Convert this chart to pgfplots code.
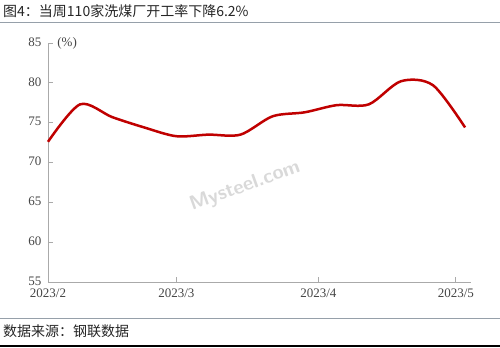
\documentclass[border=0pt]{standalone}
\usepackage{pgfplots}
\pgfplotsset{compat=1.18}
\usepackage{fontspec}
\setmainfont{Liberation Serif}
\newfontfamily\cjk{Noto Sans CJK SC}
\definecolor{axisgray}{RGB}{170,170,170}
\definecolor{labgray}{RGB}{70,70,70}
\definecolor{linered}{RGB}{192,0,0}
\definecolor{rulegray}{RGB}{150,160,170}
\begin{document}
\begin{tikzpicture}[x=1bp,y=1bp]
\useasboundingbox (0,0) rectangle (500,-347);
\fill[white] (0,0) rectangle (500,-347);
\node[anchor=west,inner sep=0pt,font=\cjk\fontsize{14bp}{16bp}\selectfont,text=black!85] at (3,-11) {图4：当周110家洗煤厂开工率下降6.2\%};
\draw[rulegray,line width=0.8bp] (0,-22) -- (500,-22);
\draw[rulegray,line width=0.8bp] (0,-318) -- (500,-318);
\node[anchor=west,inner sep=0pt,font=\cjk\fontsize{14bp}{16bp}\selectfont,text=black!85] at (3,-331) {数据来源：钢联数据};
\draw[black,line width=1.5bp] (0,-346) -- (500,-346);
\begin{axis}[
  at={(48bp,-282bp)}, anchor=south west,
  scale only axis, width=423bp, height=239bp,
  xmin=0, xmax=92.3, ymin=55, ymax=85,
  axis lines=left, axis line style={axisgray,line width=0.8bp,-},
  xtick={0,28,59,89}, xticklabels={2023/2,2023/3,2023/4,2023/5},
  ytick={55,60,...,85},
  tick style={axisgray,line width=0.8bp},
  tick align=inside, major tick length=5bp,
  ticklabel style={font=\fontsize{13bp}{15bp}\selectfont,text=labgray},
  /pgf/number format/assume math mode=true,
  yticklabel style={xshift=-3bp,yshift=1bp},
  xticklabel style={yshift=-3bp},
  clip=false,
]
\node[anchor=west,font=\fontsize{13bp}{15bp}\selectfont,text=labgray,inner sep=0pt] at (axis cs:2,85) {(\%)};
\node[rotate=20,font=\sffamily\bfseries\fontsize{20bp}{22bp}\selectfont,text=black!15] at (axis cs:43,67) {Mysteel.com};
\addplot[linered,line width=2.5bp,smooth,tension=0.5] coordinates {
(0,72.6) (7,77.3) (14,75.7) (21,74.4) (28,73.3) (35,73.5) (42,73.5)
(49,75.8) (56,76.3) (63,77.2) (70,77.3) (77,80.2) (84,79.7) (91,74.4)
};
\end{axis}
\end{tikzpicture}
\end{document}
